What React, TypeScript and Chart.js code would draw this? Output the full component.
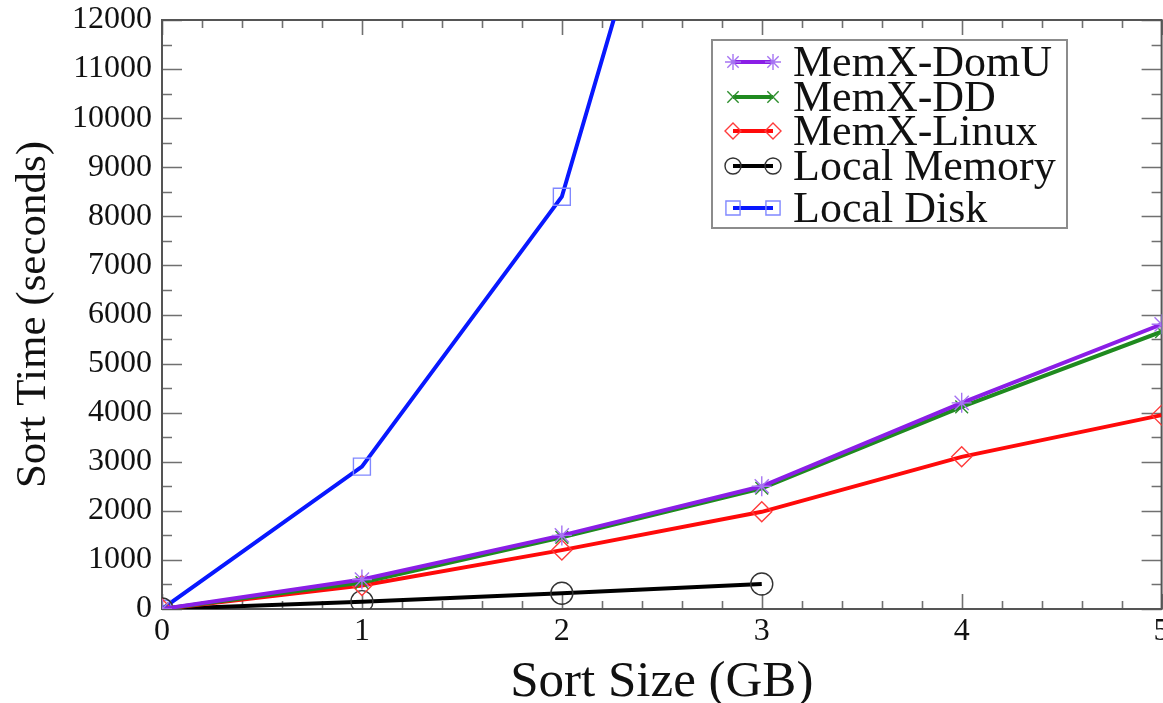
import React, { useEffect, useRef } from "react";
import { Chart, registerables } from "chart.js";
import { drawPoint } from "chart.js/helpers";

Chart.register(...registerables);

// ---------- data ----------
const sortSizes = [0, 1, 2, 3, 4, 5];
const memxDomU = [0, 600, 1500, 2500, 4200, 5800];
const memxDD = [0, 540, 1460, 2460, 4120, 5650];
const memxLinux = [0, 480, 1200, 1980, 3100, 3950];
const localMemSizes = [0, 1, 2, 3];
const localMemory = [0, 150, 320, 510];
const localDiskSizes = [0, 1, 2, 3];
const localDisk = [0, 2900, 8400, 22300];

const xTickValues = [0, 1, 2, 3, 4, 5];
const yTickValues = [0, 1000, 2000, 3000, 4000, 5000, 6000, 7000, 8000, 9000, 10000, 11000, 12000];
const X_MIN = 0, X_MAX = 5, X_MINOR = 0.2;
const Y_MIN = 0, Y_MAX = 12000, Y_MINOR = 500;

const seriesNames = ["MemX-DomU", "MemX-DD", "MemX-Linux", "Local Memory", "Local Disk"];

// ---------- styles ----------
const SERIF = "'Liberation Serif', 'Times New Roman', serif";
const styles = [
  { line: "#8a1ee6", marker: "#a674f2", point: "star", radius: 10 },
  { line: "#1f8a1f", marker: "#2f8f2f", point: "crossRot", radius: 9 },
  { line: "#ff0a0a", marker: "#ff3b3b", point: "rectRot", radius: 10 },
  { line: "#000000", marker: "#333333", point: "circle", radius: 11 },
  { line: "#0818ff", marker: "#8088ff", point: "rect", radius: 12 },
];

const toPts = (xs: number[], ys: number[]) => ys.map((y, i) => ({ x: xs[i], y }));

const framePlugin = {
  id: "frame",
  beforeDatasetsDraw(chart: any) {
    const { ctx, chartArea: a, scales } = chart;
    const x = scales.x, y = scales.y;
    ctx.save();
    ctx.strokeStyle = "#707070";
    ctx.lineWidth = 1.6;
    ctx.beginPath();
    const nY = Math.round((Y_MAX - Y_MIN) / Y_MINOR);
    for (let i = 0; i <= nY; i++) {
      const v = Y_MIN + i * Y_MINOR;
      const py = Math.round(y.getPixelForValue(v)) + 0.5;
      const len = i % 2 === 0 ? 20 : 10;
      ctx.moveTo(a.left, py); ctx.lineTo(a.left + len, py);
      ctx.moveTo(a.right, py); ctx.lineTo(a.right - len, py);
    }
    const nX = Math.round((X_MAX - X_MIN) / X_MINOR);
    for (let i = 0; i <= nX; i++) {
      const v = X_MIN + i * X_MINOR;
      const px = Math.round(x.getPixelForValue(v)) + 0.5;
      const len = i % 5 === 0 ? 15 : 8;
      ctx.moveTo(px, a.bottom); ctx.lineTo(px, a.bottom - len);
      ctx.moveTo(px, a.top); ctx.lineTo(px, a.top + len);
    }
    ctx.stroke();
    ctx.strokeStyle = "#555555";
    ctx.lineWidth = 2;
    ctx.strokeRect(a.left, a.top, a.right - a.left, a.bottom - a.top);
    ctx.restore();
  },
};

const legendPlugin = {
  id: "customLegend",
  afterDraw(chart: any) {
    const { ctx } = chart;
    const box = { left: 712, top: 40, right: 1067, bottom: 228 };
    const rows = [62, 97, 131, 166, 208];
    ctx.save();
    ctx.fillStyle = "#ffffff";
    ctx.fillRect(box.left, box.top, box.right - box.left, box.bottom - box.top);
    ctx.strokeStyle = "#8c8c8c";
    ctx.lineWidth = 2;
    ctx.strokeRect(box.left, box.top, box.right - box.left, box.bottom - box.top);
    seriesNames.forEach((name, i) => {
      const s = styles[i];
      const yy = rows[i];
      const x1 = 733, x2 = 773;
      ctx.strokeStyle = s.line;
      ctx.lineWidth = 4;
      ctx.beginPath();
      ctx.moveTo(x1, yy); ctx.lineTo(x2, yy);
      ctx.stroke();
      ctx.strokeStyle = s.marker;
      ctx.fillStyle = "rgba(0,0,0,0)";
      ctx.lineWidth = 1.4;
      const r = s.point === "rect" ? 10 : 8;
      drawPoint(ctx, { pointStyle: s.point as any, radius: r, rotation: 0, borderWidth: 1.4 } as any, x1, yy);
      drawPoint(ctx, { pointStyle: s.point as any, radius: r, rotation: 0, borderWidth: 1.4 } as any, x2, yy);
      ctx.fillStyle = "#111111";
      ctx.font = `44px ${SERIF}`;
      ctx.textBaseline = "middle";
      ctx.textAlign = "left";
      ctx.fillText(name, 793, yy + 2);
    });
    ctx.restore();
  },
};

export default function App() {
  const ref = useRef<HTMLCanvasElement | null>(null);
  useEffect(() => {
    document.body.style.margin = "0";
    const canvas = ref.current!;
    const allSeries = [
      toPts(sortSizes, memxDomU),
      toPts(sortSizes, memxDD),
      toPts(sortSizes, memxLinux),
      toPts(localMemSizes, localMemory),
      toPts(localDiskSizes, localDisk),
    ];
    const chart = new Chart(canvas, {
      type: "line",
      data: {
        datasets: allSeries.map((d, i) => ({
          label: seriesNames[i],
          data: d,
          borderColor: styles[i].line,
          borderWidth: 4,
          pointStyle: styles[i].point as any,
          pointRadius: styles[i].radius,
          pointBorderColor: styles[i].marker,
          pointBackgroundColor: "rgba(0,0,0,0)",
          pointBorderWidth: 1.4,
          tension: 0,
          fill: false,
        })),
      },
      options: {
        responsive: false,
        animation: false,
        devicePixelRatio: 1,
        events: [],
        layout: { padding: { left: 0, right: 3, top: 20, bottom: 0 } },
        plugins: { legend: { display: false }, tooltip: { enabled: false } },
        scales: {
          x: {
            type: "linear",
            min: X_MIN,
            max: X_MAX,
            afterBuildTicks: (s: any) => { s.ticks = xTickValues.map((v) => ({ value: v })); },
            ticks: {
              font: { family: SERIF, size: 32 }, color: "#111", padding: 3, maxRotation: 0, autoSkip: false,
              callback: (v: any) => String(v),
            },
            grid: { display: false, drawTicks: false },
            border: { display: false },
            title: {
              display: true,
              text: "Sort Size (GB)",
              font: { family: SERIF, size: 51, lineHeight: 0.8 },
              color: "#111",
              padding: { top: 0, bottom: 0 },
            },
            afterFit: (s: any) => { s.height = 94; s.paddingLeft = 0; s.paddingRight = 0; },
          },
          y: {
            type: "linear",
            min: Y_MIN,
            max: Y_MAX,
            afterBuildTicks: (s: any) => { s.ticks = yTickValues.map((v) => ({ value: v })); },
            ticks: {
              font: { family: SERIF, size: 32 }, color: "#111", padding: 10, autoSkip: false,
              callback: (v: any) => String(v),
            },
            grid: { display: false, drawTicks: false },
            border: { display: false },
            title: {
              display: true,
              text: "Sort Time (seconds)",
              font: { family: SERIF, size: 43, lineHeight: 1.2 },
              color: "#111",
              padding: { top: 8, bottom: 0 },
            },
            afterFit: (s: any) => { s.width = 162; s.paddingTop = 0; s.paddingBottom = 0; },
          },
        },
      } as any,
      plugins: [framePlugin, legendPlugin],
    });
    return () => chart.destroy();
  }, []);
  return (
    <div style={{ position: "absolute", left: 0, top: 0, width: 1163, height: 703, overflow: "hidden", background: "#fff" }}>
      <canvas ref={ref} width={1175} height={703} style={{ display: "block" }} />
    </div>
  );
}
